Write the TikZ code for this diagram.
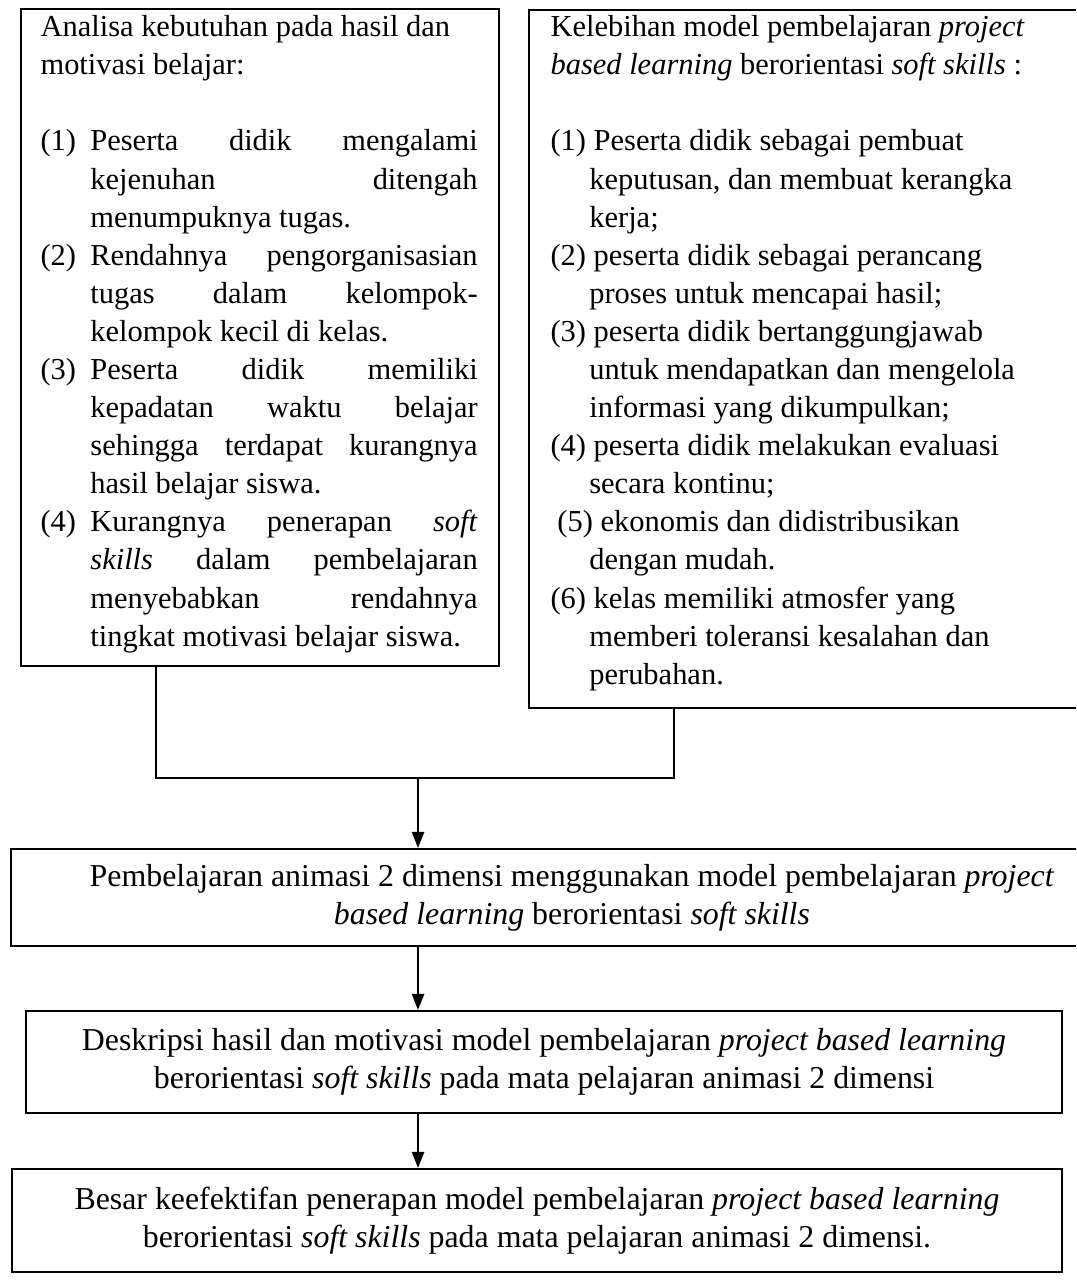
\documentclass[tikz,border=0pt]{standalone}
\usepackage{fontspec}
\setmainfont{Liberation Serif}
\usetikzlibrary{arrows.meta,positioning,calc}
\newcommand{\pxu}{0.361pt}
\newcommand{\hng}{18pt}
\newcommand{\rhng}{14pt}
\newcommand{\jl}[1]{\hbox to 139.8pt{#1}}
\newcommand{\nr}[1]{\makebox[\hng][l]{#1}}
\tikzset{
  outer/.style={draw, line width=0.75pt, inner sep=0pt, anchor=north west},
  toptext/.style={inner sep=0pt, anchor=north west, align=left, font=\fontsize{11}{13.75}\selectfont},
  flowbox/.style={draw, line width=0.75pt, align=center, inner sep=0pt, font=\fontsize{11.5}{13.6}\selectfont},
}

\begin{document}
\begin{tikzpicture}[x=\pxu, y=-\pxu, >={Triangle[width=4.4pt,length=5.8pt]}]
  \useasboundingbox (0,0) rectangle (1076,1283);
  \clip (0,0) rectangle (1076,1283);

  % two boxes on top
  \node[outer, minimum width=478*\pxu, minimum height=657*\pxu] (lbox) at (20,8) {};
  \node[outer, minimum width=570*\pxu, minimum height=698*\pxu] (rbox) at (528,9) {};

  \node[toptext] (ltext) at ([shift={(20,7)}]lbox.north west) {%
    Analisa kebutuhan pada hasil dan\\
    motivasi belajar:\\[13.75pt]
    \nr{(1)}\jl{Peserta\hfill didik\hfill mengalami}\\
    \hspace*{\hng}\jl{kejenuhan\hfill ditengah}\\
    \hspace*{\hng}menumpuknya tugas.\\
    \nr{(2)}\jl{Rendahnya\hfill pengorganisasian}\\
    \hspace*{\hng}\jl{tugas\hfill dalam\hfill kelompok-}\\
    \hspace*{\hng}kelompok kecil di kelas.\\
    \nr{(3)}\jl{Peserta\hfill didik\hfill memiliki}\\
    \hspace*{\hng}\jl{kepadatan\hfill waktu\hfill belajar}\\
    \hspace*{\hng}\jl{sehingga\hfill terdapat\hfill kurangnya}\\
    \hspace*{\hng}hasil belajar siswa.\\
    \nr{(4)}\jl{Kurangnya\hfill penerapan\hfill \textit{soft}}\\
    \hspace*{\hng}\jl{\textit{skills}\hfill dalam\hfill pembelajaran}\\
    \hspace*{\hng}\jl{menyebabkan\hfill rendahnya}\\
    \hspace*{\hng}tingkat motivasi belajar siswa.};

  \node[toptext] (rtext) at ([shift={(22,6)}]rbox.north west) {%
    Kelebihan model pembelajaran \textit{project}\\
    \textit{based learning} berorientasi \textit{soft skills} :\\[13.75pt]
    (1) Peserta didik sebagai pembuat\\
    \hspace*{\rhng}keputusan, dan membuat kerangka\\
    \hspace*{\rhng}kerja;\\
    (2) peserta didik sebagai perancang\\
    \hspace*{\rhng}proses untuk mencapai hasil;\\
    (3) peserta didik bertanggungjawab\\
    \hspace*{\rhng}untuk mendapatkan dan mengelola\\
    \hspace*{\rhng}informasi yang dikumpulkan;\\
    (4) peserta didik melakukan evaluasi\\
    \hspace*{\rhng}secara kontinu;\\
    \hspace*{2.5pt}(5) ekonomis dan didistribusikan\\
    \hspace*{\rhng}dengan mudah.\\
    (6) kelas memiliki atmosfer yang\\
    \hspace*{\rhng}memberi toleransi kesalahan dan\\
    \hspace*{\rhng}perubahan.};

  % flow boxes
  \node[flowbox, minimum width=1122*\pxu, minimum height=97*\pxu] (plan) at (572,897.5) {%
    Pembelajaran animasi 2 dimensi menggunakan model pembelajaran \textit{project}\\
    \textit{based learning} berorientasi \textit{soft skills}};
  \node[flowbox, minimum width=1036*\pxu, minimum height=102*\pxu] (desc) at (544,1062) {%
    Deskripsi hasil dan motivasi model pembelajaran \textit{project based learning}\\
    berorientasi \textit{soft skills} pada mata pelajaran animasi 2 dimensi};
  \node[flowbox, minimum width=1050*\pxu, minimum height=103*\pxu] (effect) at (537,1220.5) {%
    Besar keefektifan penerapan model pembelajaran \textit{project based learning}\\
    berorientasi \textit{soft skills} pada mata pelajaran animasi 2 dimensi.};

  % connectors
  \coordinate (join) at (418,778);
  \coordinate (lfoot) at ($(lbox.south west)+(136,0)$);
  \coordinate (rfoot) at ($(rbox.south west)+(146,0)$);
  \draw[line width=0.75pt] (lfoot) -- (lfoot |- join) -- (rfoot |- join) -- (rfoot);
  \draw[line width=0.75pt,->] (join) -- (join |- plan.north);
  \draw[line width=0.75pt,->] (plan.south -| join) -- (desc.north -| join);
  \draw[line width=0.75pt,->] (desc.south -| join) -- (effect.north -| join);
\end{tikzpicture}
\end{document}
